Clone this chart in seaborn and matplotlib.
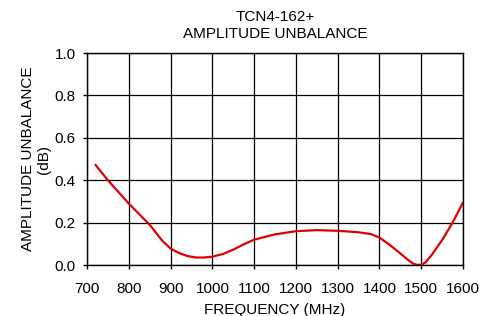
import numpy as np
import pandas as pd
import matplotlib
matplotlib.use("Agg")
import matplotlib.pyplot as plt
import seaborn as sns

# values
freq_mhz = [720, 750, 800, 850, 880, 900, 920, 940, 960, 980, 1000, 1025, 1050,
            1075, 1100, 1150, 1200, 1250, 1300, 1350, 1380, 1400, 1425, 1450,
            1465, 1480, 1490, 1500, 1510, 1525, 1550, 1575, 1600]
unbalance_db = [0.473, 0.40, 0.29, 0.19, 0.115, 0.078, 0.057, 0.043, 0.036, 0.036,
                0.040, 0.052, 0.073, 0.098, 0.120, 0.145, 0.160, 0.165, 0.162,
                0.155, 0.146, 0.130, 0.095, 0.055, 0.030, 0.008, 0.001, 0.002,
                0.012, 0.048, 0.118, 0.200, 0.295]

x_ticks = [700, 800, 900, 1000, 1100, 1200, 1300, 1400, 1500, 1600]
y_ticks = [0.0, 0.2, 0.4, 0.6, 0.8, 1.0]

df = pd.DataFrame({'freq': freq_mhz, 'unb': unbalance_db})

sns.set_style('white')
plt.rcParams['font.family'] = ['Liberation Sans', 'DejaVu Sans']
plt.rcParams['text.color'] = 'black'
plt.rcParams['axes.labelcolor'] = 'black'

fig = plt.figure(figsize=(4.92, 3.16), dpi=100)
ax = fig.add_axes([0.177, 0.161, 0.764, 0.671])

sns.lineplot(data=df, x='freq', y='unb', color='#e00000', lw=1.6, ax=ax)

ax.set_xlim(700, 1600)
ax.set_ylim(0, 1.0)
ax.set_xticks(x_ticks)
ax.set_yticks(y_ticks)
ax.set_yticklabels([f'{v:.1f}' for v in y_ticks])
ax.grid(True, color='black', lw=0.9)
for s in ax.spines.values():
    s.set_color('black')
    s.set_linewidth(1.0)
ax.tick_params(axis='both', direction='out', length=3, width=1, color='black',
               labelcolor='black', labelsize=11, bottom=True, left=True)
ax.tick_params(axis='x', pad=9)
ax.tick_params(axis='y', pad=5)

ax.set_title('TCN4-162+\nAMPLITUDE UNBALANCE', fontsize=11, pad=11, linespacing=1.25)
ax.set_xlabel('FREQUENCY (MHz)', fontsize=11, labelpad=5)
ax.set_ylabel('AMPLITUDE UNBALANCE\n(dB)', fontsize=11, labelpad=3, linespacing=1.15)

fig.savefig('out.png', dpi=100)
